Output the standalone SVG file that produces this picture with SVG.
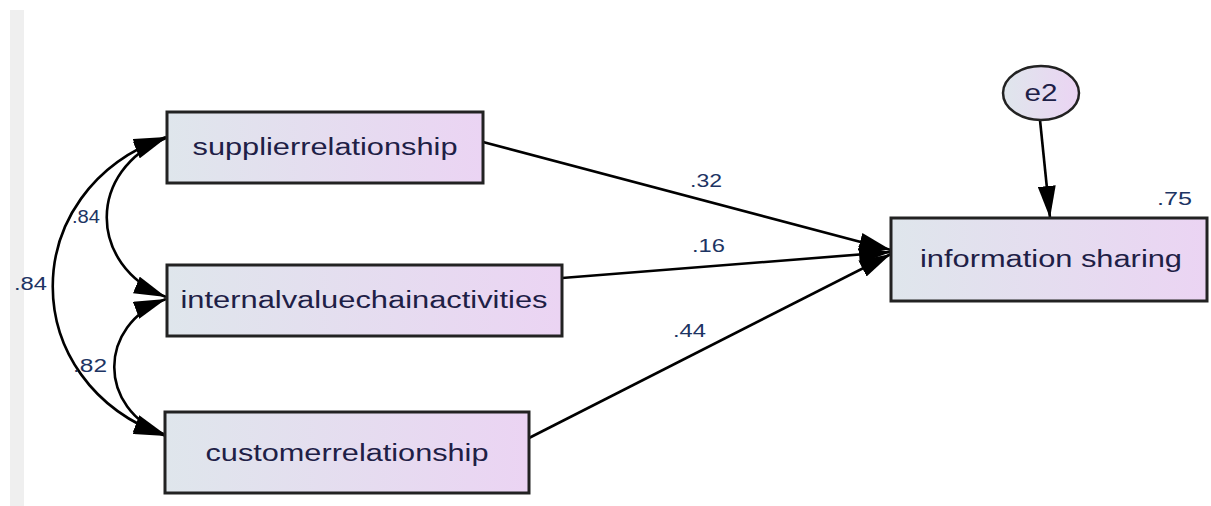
<svg xmlns="http://www.w3.org/2000/svg" width="1211" height="506" viewBox="0 0 1211 506">
<defs>
<linearGradient id="g" x1="0" y1="0" x2="1" y2="0">
<stop offset="0" stop-color="#dfe6ec"/>
<stop offset="1" stop-color="#ebd4f3"/>
</linearGradient>
<marker id="ah" viewBox="0 0 32 18" refX="32" refY="9" markerWidth="32" markerHeight="18" markerUnits="userSpaceOnUse" orient="auto-start-reverse">
<path d="M0,0 L32,9 L0,18 Z" fill="#000"/>
</marker>
<style>
.box{fill:url(#g);stroke:#222;stroke-width:3}
.t{font-family:"Liberation Sans",Arial,sans-serif;font-size:23px;fill:#1e2046;text-anchor:middle}
.lb{font-family:"Liberation Sans",Arial,sans-serif;font-size:18px;fill:#1d3463}
.c{fill:none;stroke:#000;stroke-width:2.6}
</style>
</defs>
<rect x="10" y="10" width="14" height="496" fill="#efefef"/>
<g id="connectors">
<path class="c" d="M483,142 L891,250" marker-end="url(#ah)"/>
<path class="c" d="M562,278 L891,252" marker-end="url(#ah)"/>
<path class="c" d="M529,438 L891,254" marker-end="url(#ah)"/>
<path class="c" d="M1040,120 L1050,218" marker-end="url(#ah)"/>
<path class="c" d="M166,138 C87,170 87,265 166,297" marker-start="url(#ah)" marker-end="url(#ah)"/>
<path class="c" d="M166,299 C97,325 97,409 166,435" marker-start="url(#ah)" marker-end="url(#ah)"/>
<path class="c" d="M166,137 C15,190 15,383 166,436" marker-start="url(#ah)" marker-end="url(#ah)"/>
</g>
<g id="supplier">
<rect class="box" x="167" y="112" width="316" height="71"/>
<text class="t" x="325" y="155" textLength="265" lengthAdjust="spacingAndGlyphs">supplierrelationship</text>
</g>
<g id="internal">
<rect class="box" x="167" y="265" width="395" height="71"/>
<text class="t" x="364" y="308" textLength="367" lengthAdjust="spacingAndGlyphs">internalvaluechainactivities</text>
</g>
<g id="customer">
<rect class="box" x="165" y="412" width="364" height="81"/>
<text class="t" x="347" y="461" textLength="283" lengthAdjust="spacingAndGlyphs">customerrelationship</text>
</g>
<g id="info">
<rect class="box" x="891" y="218" width="316" height="83"/>
<text class="t" x="1051" y="267" textLength="262" lengthAdjust="spacingAndGlyphs">information sharing</text>
</g>
<g id="e2">
<ellipse cx="1041" cy="93" rx="38" ry="27" fill="url(#g)" stroke="#222" stroke-width="2.5"/>
<text class="t" x="1041" y="101" font-size="21" textLength="33" lengthAdjust="spacingAndGlyphs">e2</text>
</g>
<g id="labels">
<text class="lb" x="690" y="187" textLength="32" lengthAdjust="spacingAndGlyphs">.32</text>
<text class="lb" x="692" y="252" textLength="33" lengthAdjust="spacingAndGlyphs">.16</text>
<text class="lb" x="673" y="337" textLength="33" lengthAdjust="spacingAndGlyphs">.44</text>
<text class="lb" x="1157" y="205" textLength="35" lengthAdjust="spacingAndGlyphs">.75</text>
<text class="lb" x="72" y="223" textLength="28" lengthAdjust="spacingAndGlyphs">.84</text>
<text class="lb" x="14" y="290" textLength="33" lengthAdjust="spacingAndGlyphs">.84</text>
<text class="lb" x="73" y="372" textLength="34" lengthAdjust="spacingAndGlyphs">.82</text>
</g>
</svg>
